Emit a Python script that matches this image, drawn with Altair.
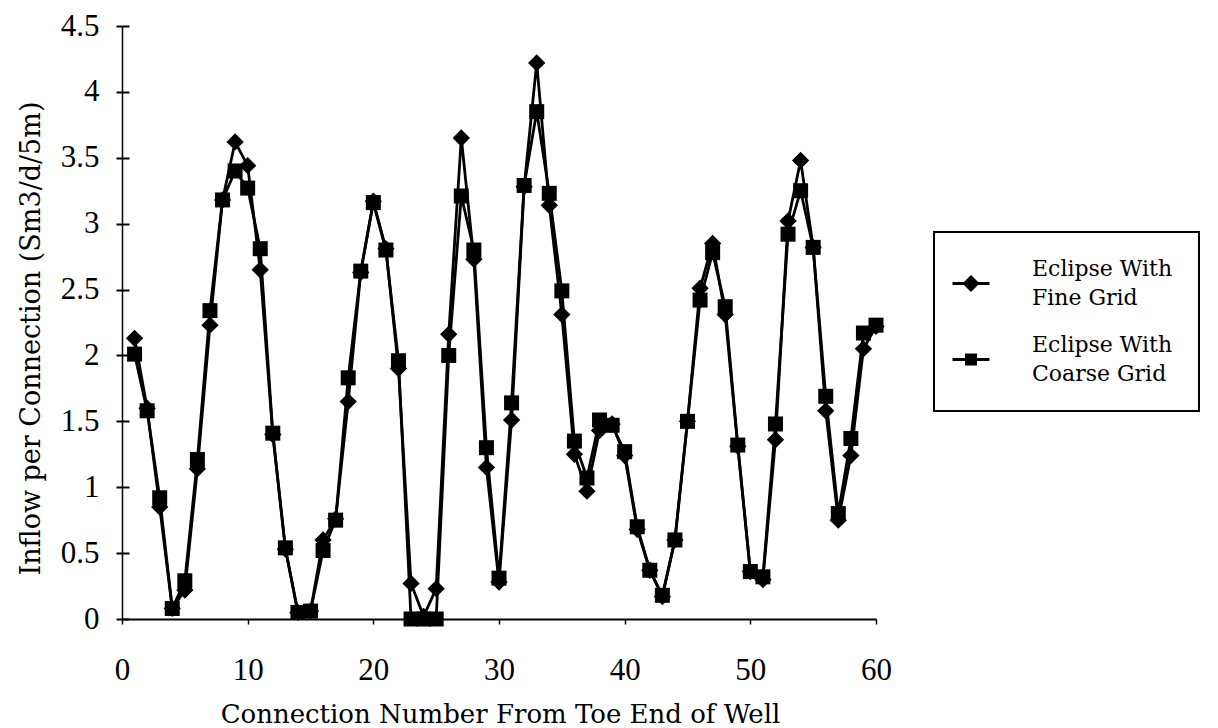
import altair as alt
import pandas as pd

connection = list(range(1, 61))
fine_grid = [2.13, 1.60, 0.85, 0.08, 0.22, 1.14, 2.23, 3.18, 3.62, 3.44,
             2.65, 1.40, 0.53, 0.05, 0.06, 0.60, 0.76, 1.65, 2.63, 3.17,
             2.81, 1.90, 0.27, 0.02, 0.23, 2.16, 3.65, 2.73, 1.15, 0.28,
             1.51, 3.28, 4.22, 3.14, 2.31, 1.25, 0.97, 1.43, 1.48, 1.24,
             0.68, 0.37, 0.17, 0.60, 1.50, 2.51, 2.85, 2.31, 1.31, 0.36,
             0.30, 1.36, 3.02, 3.48, 2.82, 1.58, 0.75, 1.24, 2.05, 2.22]
coarse_grid = [2.01, 1.58, 0.92, 0.08, 0.29, 1.21, 2.34, 3.18, 3.40, 3.27,
               2.81, 1.41, 0.54, 0.05, 0.06, 0.52, 0.75, 1.83, 2.64, 3.16,
               2.80, 1.96, 0.00, 0.00, 0.00, 2.00, 3.21, 2.80, 1.30, 0.31,
               1.64, 3.29, 3.85, 3.23, 2.49, 1.35, 1.07, 1.51, 1.47, 1.27,
               0.70, 0.37, 0.18, 0.60, 1.50, 2.42, 2.78, 2.37, 1.32, 0.36,
               0.32, 1.48, 2.92, 3.25, 2.82, 1.69, 0.80, 1.37, 2.17, 2.23]
series_names = ["Eclipse With Fine Grid", "Eclipse With Coarse Grid"]
x_ticks = [0, 10, 20, 30, 40, 50, 60]
y_ticks = [0, 0.5, 1, 1.5, 2, 2.5, 3, 3.5, 4, 4.5]

df = pd.concat([
    pd.DataFrame({"conn": connection, "val": fine_grid, "series": series_names[0]}),
    pd.DataFrame({"conn": connection, "val": coarse_grid, "series": series_names[1]}),
])

TICK_FONT = "Liberation Serif"
TITLE_FONT = "DejaVu Serif"

x_enc = alt.X("conn:Q", scale=alt.Scale(domain=[0, 60], nice=False, zero=False),
              axis=alt.Axis(values=x_ticks, title="Connection Number From Toe End of Well",
                            grid=False, tickSize=5, tickColor="black", domainColor="black",
                            domainWidth=2, tickWidth=1.5, labelFlush=False,
                            labelFont=TICK_FONT, labelFontSize=31, labelColor="black",
                            labelBaseline="alphabetic", labelPadding=55,
                            titleFont=TITLE_FONT, titleFontSize=26, titleFontWeight="normal",
                            titleColor="black", titleX=378, titleY=103,
                            titleBaseline="alphabetic", titleAlign="center"))
y_scale = alt.Scale(domain=[0, 4.5], nice=False)

lines = alt.Chart(df).mark_line(color="black", strokeWidth=2.8).encode(
    x=x_enc,
    y=alt.Y("val:Q", scale=y_scale,
            axis=alt.Axis(values=y_ticks, format="~g", title="Inflow per Connection (Sm3/d/5m)",
                          grid=False, orient="left", tickSize=6, tickColor="black",
                          tickWidth=2, domainColor="black", domainWidth=1.5, labelFlush=False,
                          labelFont=TICK_FONT, labelFontSize=31, labelColor="black",
                          labelPadding=17,
                          titleFont=TITLE_FONT, titleFontSize=27, titleFontWeight="normal",
                          titleColor="black", titleAngle=-90, titleX=-91, titleY=312,
                          titleBaseline="middle", titleAlign="center")),
    detail="series:N",
)

fine_pts = alt.Chart(df).transform_filter(
    alt.datum.series == series_names[0]
).mark_point(shape="diamond", filled=True, color="black", size=300, opacity=1).encode(
    x=x_enc,
    y=alt.Y("val:Q", scale=y_scale,
            axis=alt.Axis(values=y_ticks, orient="left", offset=-7, tickSize=7, tickWidth=2,
                          tickColor="black", domain=False, labels=False, title=None, grid=False)),
)

coarse_pts = alt.Chart(df).transform_filter(
    alt.datum.series == series_names[1]
).mark_point(shape="square", filled=True, color="black", size=225, opacity=1).encode(
    x=x_enc,
    y=alt.Y("val:Q", scale=y_scale, axis=None),
)

# legend glyphs: a short line with the marker on it (unit = symbol radius of 6px)
path_diamond = ("M-3.08,2.17L3.08,2.17L3.08,2.67L-3.08,2.67Z"
                "M0,1.0L1.42,2.42L0,3.84L-1.42,2.42Z")
path_square = ("M-3.08,2.17L3.08,2.17L3.08,2.67L-3.08,2.67Z"
               "M-1,1.42L1,1.42L1,3.42L-1,3.42Z")

legend_layer = alt.Chart(df).transform_filter("false").mark_point(
    filled=True, color="black", size=144, opacity=1
).encode(
    shape=alt.Shape("series:N",
                    scale=alt.Scale(domain=series_names, range=[path_diamond, path_square]),
                    legend=alt.Legend(title=None, orient="none", legendX=812, legendY=206,
                                      padding=26, strokeColor="black", symbolSize=144,
                                      symbolFillColor="black", symbolStrokeWidth=0,
                                      labelOffset=50, rowPadding=25,
                                      labelFont=TITLE_FONT, labelFontSize=22, labelColor="black",
                                      labelLimit=400,
                                      labelExpr="[slice(datum.label, 0, 12), slice(datum.label, 13)]")),
)

chart = alt.layer(lines, fine_pts, coarse_pts, legend_layer).resolve_axis(
    y="independent"
).properties(
    width=754, height=593,
    autosize=alt.AutoSizeParams(type="none"),
    padding={"left": 122, "top": 26, "right": 342, "bottom": 109},
).configure(
    view=alt.ViewConfig(stroke=None),
    legend=alt.LegendConfig(strokeWidth=2),
    style={"guide-label": {"lineHeight": 29}},
)

chart.save("out.html", embed_options={"renderer": "svg", "actions": False})
